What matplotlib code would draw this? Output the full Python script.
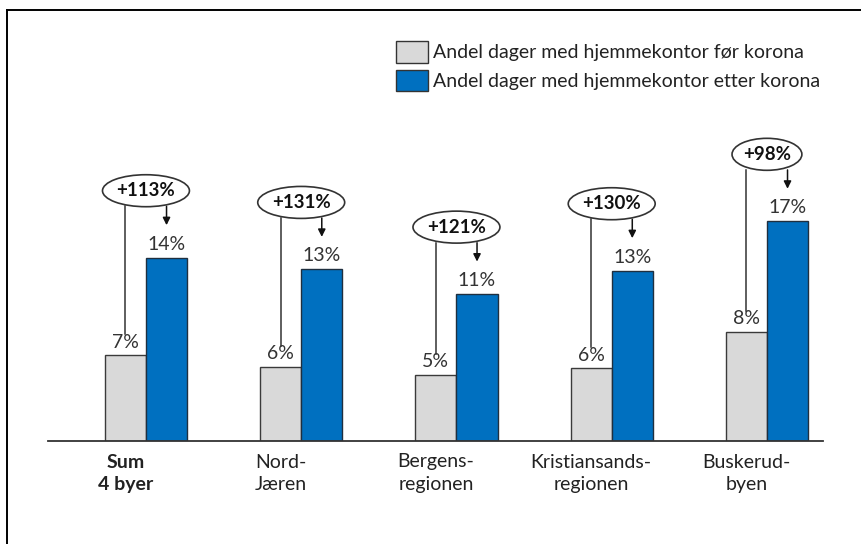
import matplotlib
matplotlib.use("Agg")
import matplotlib.pyplot as plt
from matplotlib.patches import Ellipse
from matplotlib.lines import Line2D
import numpy as np

categories = ["Sum\n4 byer", "Nord-\nJæren", "Bergens-\nregionen",
              "Kristiansands-\nregionen", "Buskerud-\nbyen"]
before = [6.6, 5.7, 5.1, 5.6, 8.4]
after = [14.1, 13.2, 11.3, 13.1, 16.9]
before_labels = ["7%", "6%", "5%", "6%", "8%"]
after_labels = ["14%", "13%", "11%", "13%", "17%"]
change_labels = ["+113%", "+131%", "+121%", "+130%", "+98%"]
legend_labels = ["Andel dager med hjemmekontor før korona",
                 "Andel dager med hjemmekontor etter korona"]

plt.rcParams['font.family'] = ['Lato', 'DejaVu Sans']
FS = 14

W, H = 862, 544
fig = plt.figure(figsize=(W / 100, H / 100), dpi=100)
ax = fig.add_axes([48 / W, 103 / H, 775 / W, 431 / H])

x = np.arange(len(categories))
bw = 0.265
grey_x = x - bw / 2
blue_x = x + bw / 2
ax.bar(grey_x, before, bw, color="#d9d9d9", edgecolor="#3a3a3a",
       linewidth=1.0, label=legend_labels[0])
ax.bar(blue_x, after, bw, color="#0070c0", edgecolor="#1f2f3f",
       linewidth=1.0, label=legend_labels[1])

ax.set_xlim(-0.631, 4.361)
ax.set_ylim(0, 33.15)
for s in ["top", "right", "left"]:
    ax.spines[s].set_visible(False)
ax.spines["bottom"].set_color("#333333")
ax.spines["bottom"].set_linewidth(1.3)
ax.set_yticks([])
ax.set_xticks(grey_x)
ax.set_xticklabels(categories, fontsize=FS, color="#222222",
                   linespacing=1.4)
ax.tick_params(axis="x", length=0, pad=9)
ax.get_xticklabels()[0].set_fontweight("bold")

for i in range(len(categories)):
    ax.text(grey_x[i], before[i] + 1.0, before_labels[i], ha="center",
            va="center", fontsize=FS, color="#333333")
    ax.text(blue_x[i], after[i] + 1.05, after_labels[i], ha="center",
            va="center", fontsize=FS, color="#333333")
    # change bubble
    cy = after[i] + 5.15
    ew = 0.56 if len(change_labels[i]) == 5 else 0.45
    ax.add_patch(Ellipse((x[i], cy), ew, 2.46, facecolor="white",
                         edgecolor="#333333", linewidth=1.2,
                         clip_on=False, zorder=3))
    ax.text(x[i], cy, change_labels[i], ha="center", va="center",
            fontsize=13.5, fontweight="bold", color="#111111", zorder=4)
    ax.plot([grey_x[i], grey_x[i]], [cy - 1.2, before[i] + 1.6],
            color="#333333", linewidth=1.1, clip_on=False)
    ax.annotate("", xy=(blue_x[i], after[i] + 2.5), xytext=(blue_x[i], cy - 1.2),
                arrowprops=dict(arrowstyle="-|>", color="#111111", lw=1.1,
                                mutation_scale=11, shrinkA=0, shrinkB=0),
                annotation_clip=False)

ax.legend(loc="upper left", bbox_to_anchor=(396 / W, 1 - 41 / H),
          bbox_transform=fig.transFigure, frameon=False, fontsize=FS,
          handlelength=1.65, handleheight=1.35, handletextpad=0.25,
          labelspacing=0.35, borderpad=0, borderaxespad=0,
          labelcolor="#222222")
for h in ax.get_legend().legend_handles:
    h.set_edgecolor("#333333")

# frame of the cropped screenshot
fig.add_artist(Line2D([7.5 / W, 1], [1 - 10 / H, 1 - 10 / H],
                      transform=fig.transFigure, color="black", lw=1.4))
fig.add_artist(Line2D([7.5 / W, 7.5 / W], [0, 1 - 10 / H],
                      transform=fig.transFigure, color="black", lw=1.4))

fig.savefig("out.png", dpi=100)
